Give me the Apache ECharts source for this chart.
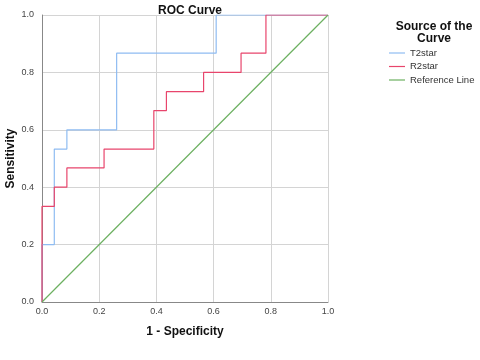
<!DOCTYPE html>
<html>
<head>
<meta charset="utf-8">
<script src="https://cdn.jsdelivr.net/npm/echarts@6/dist/echarts.min.js"></script>
<style>
  html, body { margin: 0; padding: 0; background: #fff; }
  #chart { width: 480px; height: 360px; }
</style>
</head>
<body>
<div id="chart"></div>
<script>
// ROC points (1 - specificity, sensitivity)
const t2Fpr = [0, 0, 0.043, 0.087, 0.261, 0.609, 1];
const t2Tpr = [0, 0.2, 0.533, 0.6, 0.867, 1, 1];

const r2Fpr = [0, 0, 0.043, 0.087, 0.217, 0.391, 0.435, 0.565, 0.696, 0.783, 1];
const r2Tpr = [0, 0.333, 0.4, 0.467, 0.533, 0.667, 0.733, 0.8, 0.867, 1, 1];

const refX = [0, 1];
const refY = [0, 1];

const seriesNames = ["T2star", "R2star", "Reference Line"];
const colors = ["#8fbcf2", "#e8456c", "#6cb060"];

const pairs = (xs, ys) => xs.map((x, i) => [x, ys[i]]);

const chart = echarts.init(document.getElementById("chart"));

const axisCommon = {
  type: "value",
  min: 0,
  max: 1,
  interval: 0.2,
  nameLocation: "middle",
  nameMoveOverlap: false,
  nameTextStyle: { fontFamily: "Liberation Sans", fontWeight: "bold", fontSize: 12, color: "#111" },
  axisLine: { show: true, lineStyle: { color: "#888", width: 1 } },
  axisTick: { show: false },
  axisLabel: { fontFamily: "Liberation Sans", fontSize: 9, color: "#444", formatter: v => v.toFixed(1) },
  splitLine: { show: true, lineStyle: { color: "#d4d4d4", width: 1 } },
};

chart.setOption({
  backgroundColor: "#fff",
  animation: false,
  title: [
    {
      text: "ROC Curve",
      left: 185, top: 0, textAlign: "center",
      textStyle: { fontFamily: "Liberation Sans", fontWeight: "bold", fontSize: 12, color: "#111" },
    },
    {
      text: "Source of the\nCurve",
      left: 429, top: 16, textAlign: "center",
      textStyle: { fontFamily: "Liberation Sans", fontWeight: "bold", fontSize: 12, lineHeight: 12, color: "#111" },
    },
  ],
  legend: {
    orient: "vertical",
    left: 389, top: 48, padding: 0,
    itemWidth: 16, itemHeight: 8, itemGap: 3.5,
    icon: "path://M0,4L16,4L16,5.2L0,5.2Z",
    textStyle: { fontFamily: "Liberation Sans", fontSize: 9.5, color: "#333" },
    data: seriesNames,
  },
  grid: { left: 42, right: 152, top: 15, bottom: 58, outerBoundsMode: "none" },
  xAxis: Object.assign({}, axisCommon, {
    name: "1 - Specificity", nameGap: 24,
    axisLabel: Object.assign({}, axisCommon.axisLabel, { margin: 5 }),
  }),
  yAxis: Object.assign({}, axisCommon, { name: "Sensitivity", nameGap: 25 }),
  series: [
    {
      name: seriesNames[0], type: "line", step: "end", symbol: "none",
      color: colors[0], lineStyle: { width: 1.2 },
      data: pairs(t2Fpr, t2Tpr),
    },
    {
      name: seriesNames[1], type: "line", step: "end", symbol: "none",
      color: colors[1], lineStyle: { width: 1.2 },
      data: pairs(r2Fpr, r2Tpr),
    },
    {
      name: seriesNames[2], type: "line", symbol: "none",
      color: colors[2], lineStyle: { width: 1.2 },
      data: pairs(refX, refY),
    },
  ],
});
</script>
</body>
</html>
